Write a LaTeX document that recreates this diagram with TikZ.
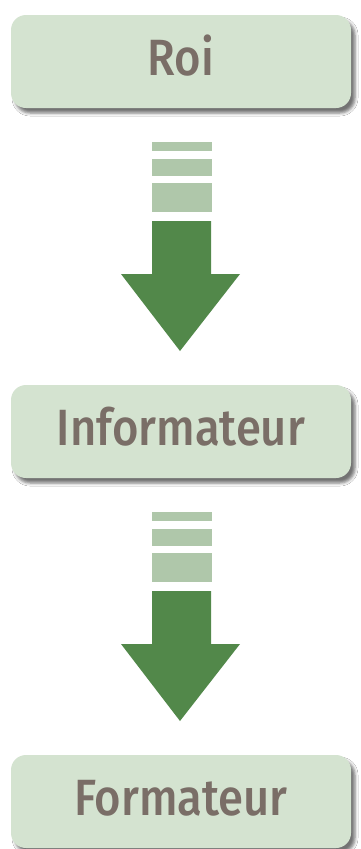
\documentclass[tikz,border=0pt]{standalone}
\usepackage{fontspec}
\setmainfont{Fira Sans}[UprightFont=* Medium, BoldFont=* SemiBold]
\newfontfamily\labfont{Fira Sans}[UprightFont=* Medium, FakeStretch=0.89]
\usetikzlibrary{shadows.blur}
\definecolor{boxfill}{HTML}{D4E3D0}
\definecolor{txtcol}{HTML}{7A6E67}
\definecolor{arrowgreen}{HTML}{52884A}
\definecolor{stripe}{HTML}{AFC7AA}
\begin{document}
\begin{tikzpicture}[x=1pt,y=-1pt,
  stage/.style={fill=boxfill, rounded corners=15pt,
    blur shadow={shadow xshift=4pt, shadow yshift=-5pt, shadow blur radius=3pt, shadow opacity=55}},
  lbl/.style={anchor=base, text=txtcol, font=\labfont\fontsize{51}{51}\selectfont, inner sep=0pt},
  stripefill/.style={fill=stripe},
  arrowfill/.style={fill=arrowgreen}]
\useasboundingbox (0,0) rectangle (361,849);
\fill[white] (0,0) rectangle (361,849);
% boxes
\path[stage] (11,15) rectangle (351,108);
\path[stage] (11,385) rectangle (351,478);
\path[stage] (11,755) rectangle (351,848);
\node[lbl] (roi) at (181,75) {Roi};
\node[lbl] (info) at (181,445) {Informateur};
\node[lbl] (form) at (181,815) {Formateur};
% arrows
\foreach \dy/\nm in {0/a1,370/a2}{
  \begin{scope}[yshift=-\dy pt]
  \fill[stripefill] (152,142) rectangle (212,151);
  \fill[stripefill] (152,159) rectangle (212,176);
  \fill[stripefill] (152,183) rectangle (212,212);
  \fill[arrowfill] (152,221) -- (211,221) -- (211,274) -- (240,274) -- (180,351) -- (121,274) -- (152,274) -- cycle;
  \end{scope}
}
\end{tikzpicture}
\end{document}
